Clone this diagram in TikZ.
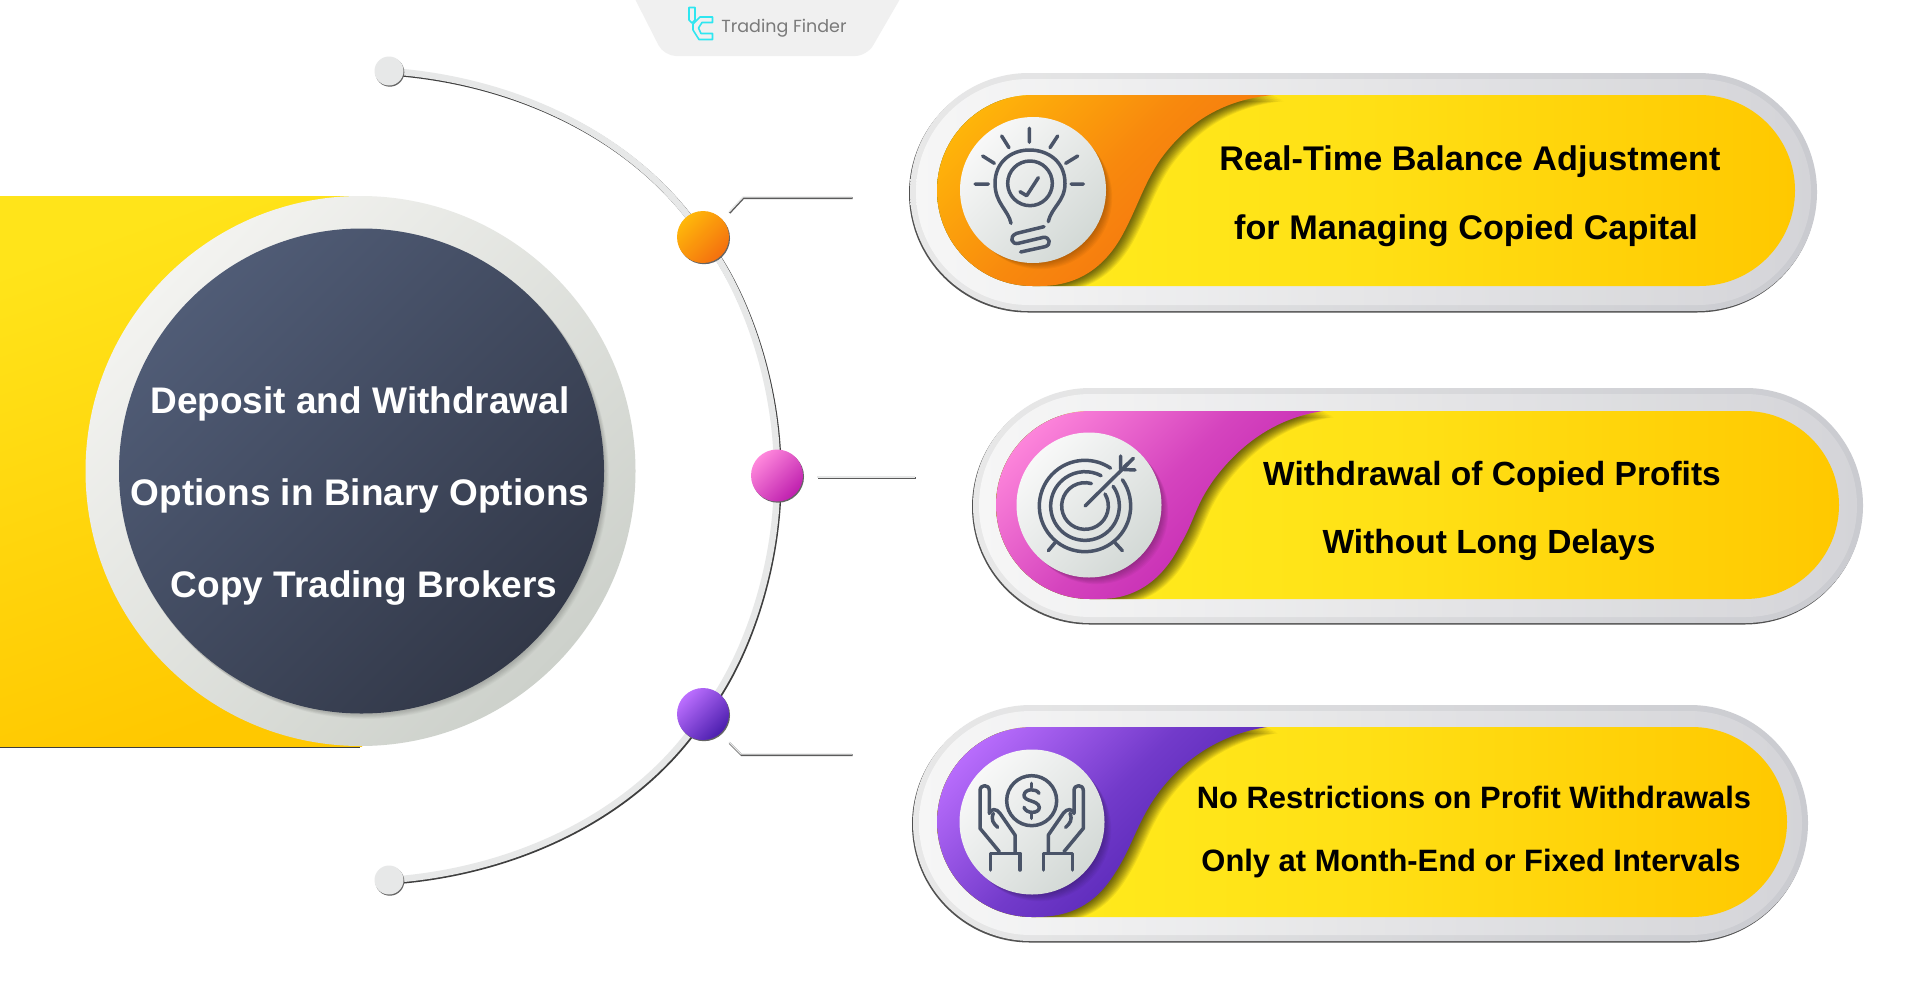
\documentclass[tikz,border=0pt]{standalone}
\usepackage{fontspec}
\setmainfont{Liberation Sans}
\newfontfamily\logofont{Poppins}
\usetikzlibrary{calc}
\definecolor{iconc}{HTML}{4A5468}
\definecolor{cyanlogo}{HTML}{2EE6F0}
\definecolor{lightarc}{HTML}{E7E8E8}
\definecolor{darkedge}{HTML}{3E3E3E}
\definecolor{ylA}{HTML}{FFEE20}
\definecolor{ylM}{HTML}{FFE015}
\definecolor{ylB}{HTML}{FFC800}
\tikzset{
  ylw/.style={left color=ylA,right color=ylB,middle color=ylM},
  paneltext/.style={anchor=base,inner sep=0pt,text=black,font=\bfseries},
  disctext/.style={anchor=base,inner sep=0pt,text=white,font=\bfseries\fontsize{37}{37}\selectfont},
  icon/.style={draw=iconc,line width=3.5pt,line cap=round,line join=round},
  thinlight/.style={draw=lightarc,line width=1.3pt},
  thindark/.style={draw=darkedge!85,line width=2pt},
  dotball/.style={circle,inner sep=0pt,minimum size=52pt},
  endball/.style={circle,inner sep=0pt,minimum size=29pt,fill=lightarc},
}
% outer pill: x1 y1 x2 y2
\newcommand{\outerpill}[4]{%
  \pgfmathsetmacro{\rr}{(#4-#2)/2}
  \fill[darkedge!90,rounded corners=\rr pt] (#1-1,#2+1.5) rectangle (#3-1,#4+1.5);
  \shade[left color=F0box,right color=D0box,rounded corners=\rr pt] (#1,#2) rectangle (#3,#4);
  \pgfmathsetmacro{\rs}{(#4-#2)/2-6}
  \shade[left color=white,right color=DDbox,opacity=.65,rounded corners=\rs pt] (#1+6,#2+6) rectangle (#3-6,#4-6);
}
\definecolor{F0box}{HTML}{E8E8E8}
\definecolor{D0box}{HTML}{CACBD0}
\definecolor{DDbox}{HTML}{DADADD}
% inner pill: x1 y1 x2 y2 colA colB pathOfColouredRegion
\newcommand{\innerpill}[7]{%
  \pgfmathsetmacro{\rr}{(#4-#2)/2}
  \shade[ylw,rounded corners=\rr pt] (#1,#2) rectangle (#3,#4);
  \begin{scope}
    \clip[rounded corners=\rr pt] (#1,#2) rectangle (#3,#4);
    \foreach \i in {1,...,11} {
      \fill[black,opacity=.065,shift={(\i*1.0,\i*0.55)}] #7;
    }
    \shade[top color=#5,bottom color=#6,middle color=#6!65!#5,shading angle=45] #7;
  \end{scope}
}
% soft shadow under icon disc: cx cy
\newcommand{\discshadow}[2]{%
  \foreach \i in {1,...,8} {
    \fill[black,opacity=.035] (#1+\i*.9,#2+\i*.9) circle[radius=72];
  }
}
\definecolor{orA}{HTML}{FFB70A}\definecolor{orB}{HTML}{F4700F}
\definecolor{piA}{HTML}{FF88DC}\definecolor{piB}{HTML}{BE1FAE}
\definecolor{puA}{HTML}{BC6FFF}\definecolor{puB}{HTML}{4B1EAE}
\definecolor{diA}{HTML}{505C76}\definecolor{diB}{HTML}{323848}
\definecolor{riA}{HTML}{F3F3F0}\definecolor{riB}{HTML}{CDD1CB}
\definecolor{icA}{HTML}{F8F8F8}\definecolor{icB}{HTML}{D3D9D6}
\definecolor{ybA}{HTML}{FFE41A}\definecolor{ybB}{HTML}{FFC800}
\begin{document}
\begin{tikzpicture}[x=1pt,y=-1pt]
\useasboundingbox (0,0) rectangle (1919,996);
\fill[white] (0,0) rectangle (1919,996);

% logo tab
\fill[rounded corners=12pt,black!6] (635,-1) -- (664,56) -- (867,56) -- (900,-1);
\draw[cyanlogo,line width=1.6pt,line join=round] (689,7.5) -- (695,7.5) -- (695,20) -- (692,23) -- (689,20) -- cycle;
\draw[cyanlogo,line width=1.6pt,line join=round] (712.5,17) -- (700,17) -- (693,24) -- (693,30) -- (699,39.5) -- (712.5,39.5) -- (712.5,33.5) -- (701,33.5) -- (698.5,28) -- (702,22.5) -- (712.5,22.5) -- cycle;
\node[inner sep=0pt,text=black!52] (logotext) at (784,28) {\logofont\fontsize{17.5}{18}\selectfont Trading Finder};

% yellow band
\fill[darkedge] (0,745) rectangle (360,747.5);
\shade[top color=ybA,bottom color=ybB,shading angle=20] (0,196) rectangle (362,746);

% centre disc
\node[circle,inner sep=0pt,minimum size=550pt,top color=riA,bottom color=riB,shading angle=45] (ring) at (360.5,471) {};
\foreach \i in {1,...,7} { \fill[black,opacity=.028] (361+\i*.7,471+\i*.7) circle[radius=243]; }
\node[circle,inner sep=0pt,minimum size=485pt,top color=diA,bottom color=diB,shading angle=45] (disc) at (361.5,471) {};
\node[disctext] (t1) at (360,413) {Deposit and Withdrawal};
\node[disctext] (t2) at (360,505) {Options in Binary Options};
\node[disctext] (t3) at (364,597) {Copy Trading Brokers};

% arc nodes
\coordinate (dotTop) at (389,71);
\coordinate (dotA) at (703,237);
\coordinate (dotB) at (777,475.5);
\coordinate (dotC) at (703,714);
\coordinate (dotBot) at (389,880);
\draw[darkedge,line width=6.5pt] ($(dotTop)+(1.3,1.4)$) .. controls (521.3,81.4) and (641.3,141.4) .. ($(dotA)+(1.3,1.4)$)
     .. controls (746.3,291.4) and (779.3,386.4) .. ($(dotB)+(1.3,1.4)$)
     .. controls (779.3,567.4) and (746.3,662.4) .. ($(dotC)+(1.3,1.4)$)
     .. controls (641.3,812.4) and (521.3,872.4) .. ($(dotBot)+(1.3,1.4)$);
\draw[lightarc,line width=6.5pt] (dotTop) .. controls (520,80) and (640,140) .. (dotA)
     .. controls (745,290) and (778,385) .. (dotB)
     .. controls (778,566) and (745,661) .. (dotC)
     .. controls (640,811) and (520,871) .. (dotBot);
% connectors
\coordinate (c1a) at (729,212);\coordinate (c1b) at (743,197);\coordinate (c1c) at (852,197);
\coordinate (c2a) at (817,477);\coordinate (c2c) at (915,477);
\coordinate (c3a) at (729,742);\coordinate (c3b) at (741,754);\coordinate (c3c) at (852,754);
\draw[thindark] ($(c1a)+(.5,1)$) -- ($(c1b)+(.5,1)$) -- ($(c1c)+(.5,1)$);
\draw[thindark] ($(c2a)+(.5,1)$) -- ($(c2c)+(.5,1)$);
\draw[thindark] ($(c3a)+(.5,1)$) -- ($(c3b)+(.5,1)$) -- ($(c3c)+(.5,1)$);
\draw[thinlight] (c1a) -- (c1b) -- (c1c);
\draw[thinlight] (c2a) -- (c2c);
\draw[thinlight] (c3a) -- (c3b) -- (c3c);
% dots
\foreach \p in {(703,237),(777,475.5),(703,714)} {
  \fill[darkedge!80,shift={(1,1.2)}] \p circle[radius=26];
}
\foreach \p in {(389,71),(389,880)} {
  \fill[darkedge!80,shift={(0.8,1.2)}] \p circle[radius=14.5];
}
\node[dotball,top color=orA,bottom color=orB,shading angle=45] (ballA) at (dotA) {};
\node[dotball,top color=piA,bottom color=piB,shading angle=45] (ballB) at (dotB) {};
\node[dotball,top color=puA,bottom color=puB,shading angle=45] (ballC) at (dotC) {};
\node[endball] (ballTop) at (dotTop) {};
\node[endball] (ballBot) at (dotBot) {};

% pill 1
\outerpill{910}{73}{1817}{311}
\innerpill{937}{95}{1795}{286}{orA}{orB}{(900,95) -- (1273,95) .. controls (1220,100) and (1185,125) .. (1160,160) .. controls (1145,182) and (1138,205) .. (1125,230) .. controls (1105,270) and (1075,286) .. (1040,286) -- (900,286) -- cycle}
\discshadow{1033}{190}
\node[circle,inner sep=0pt,minimum size=146pt,top color=icA,bottom color=icB,shading angle=45] (ic1) at (1033,190) {};
\begin{scope}[shift={(900,50)},x=0.33333pt,y=-0.33333pt]
  \draw[icon] (225,402)--(265,402) (513,402)--(550,402) (388,235)--(388,277)
    (305,258)--(327,293) (473,258)--(450,293) (248,318)--(283,340) (533,318)--(497,340);
  \draw[icon] (333,520) .. controls (325,480) and (285,460) .. (285,400) .. controls (285,335) and (335,300) .. (388,300) .. controls (445,300) and (495,335) .. (495,400) .. controls (495,455) and (455,470) .. (445,515);
  \draw[icon] (390,400) circle[radius=67];
  \draw[icon] (360,425)--(380,437)--(415,383);
  \draw[icon] (432,530) -- (350,550) .. controls (325,560) and (335,585) .. (355,580) -- (430,562) .. controls (450,560) and (455,585) .. (435,590) -- (362,606);
\end{scope}
\node[paneltext,font=\bfseries\fontsize{34.2}{34}\selectfont] (p1a) at (1470,170) {Real-Time Balance Adjustment};
\node[paneltext,font=\bfseries\fontsize{34.2}{34}\selectfont] (p1b) at (1466,239) {for Managing Copied Capital};

% pill 2
\outerpill{973}{388}{1863}{623}
\innerpill{996}{411}{1839}{599}{piA}{piB}{(960,411) -- (1323,411) .. controls (1275,418) and (1240,445) .. (1215,478) .. controls (1195,505) and (1195,520) .. (1180,545) .. controls (1165,575) and (1140,599) .. (1100,599) -- (960,599) -- cycle}
\discshadow{1089}{505}
\node[circle,inner sep=0pt,minimum size=145pt,top color=icA,bottom color=icB,shading angle=45] (ic2) at (1089,505) {};
\begin{scope}[shift={(970,380)},x=0.33333pt,y=-0.33333pt]
  \coordinate (tc) at (345,378);
  \draw[icon] ($(tc)+(-35:137)$) arc[start angle=-35,end angle=304,radius=137];
  \draw[icon] ($(tc)+(-35:103)$) arc[start angle=-35,end angle=298,radius=103];
  \draw[icon] ($(tc)+(-31:70)$) arc[start angle=-31,end angle=286,radius=70];
  \draw[icon] (tc) -- (475,250);
  \draw[icon] (452,228) -- (452,268) -- (495,270);
  \draw[icon] (490,235) -- (462,262);
  \draw[icon] (255,488) -- (235,512);
  \draw[icon] (435,488) -- (457,512);
\end{scope}
\node[paneltext,font=\bfseries\fontsize{33.5}{34}\selectfont] (p2a) at (1492,485) {Withdrawal of Copied Profits};
\node[paneltext,font=\bfseries\fontsize{33.5}{34}\selectfont] (p2b) at (1489,553) {Without Long Delays};

% pill 3
\outerpill{913}{705}{1808}{941}
\innerpill{937}{727}{1787}{917}{puA}{puB}{(900,727) -- (1267,727) .. controls (1215,735) and (1175,765) .. (1150,805) .. controls (1135,830) and (1130,850) .. (1115,873) .. controls (1095,905) and (1070,917) .. (1035,917) -- (900,917) -- cycle}
\discshadow{1032}{822}
\node[circle,inner sep=0pt,minimum size=145pt,top color=icA,bottom color=icB,shading angle=45] (ic3) at (1032,822) {};
\begin{scope}[shift={(900,700)},x=0.33333pt,y=-0.33333pt]
  \draw[icon] (395,302) circle[radius=75];
  \draw[icon] (417,280) .. controls (410,265) and (375,265) .. (372,285) .. controls (370,305) and (415,300) .. (418,322) .. controls (418,342) and (378,342) .. (372,322);
  \draw[icon] (395,250)--(395,262) (395,342)--(395,355);
  \foreach \mm/\ss in {0/1,790/-1} {
    \begin{scope}[shift={(\mm,0)},xscale=\ss]
      \draw[icon] (272,510) -- (272,460) -- (360,460) -- (360,510);
      \draw[icon] (298,455) -- (240,385) -- (240,272) .. controls (240,252) and (268,252) .. (268,272) -- (268,340);
      \draw[icon] (268,340) .. controls (272,325) and (290,325) .. (300,340) -- (345,405) -- (345,458);
      \draw[icon] (280,340) .. controls (272,360) and (280,370) .. (293,382);
    \end{scope}
  }
\end{scope}
\node[paneltext,font=\bfseries\fontsize{30.9}{31}\selectfont] (p3a) at (1474,808) {No Restrictions on Profit Withdrawals};
\node[paneltext,font=\bfseries\fontsize{30.9}{31}\selectfont] (p3b) at (1471,871) {Only at Month-End or Fixed Intervals};
\end{tikzpicture}
\end{document}
